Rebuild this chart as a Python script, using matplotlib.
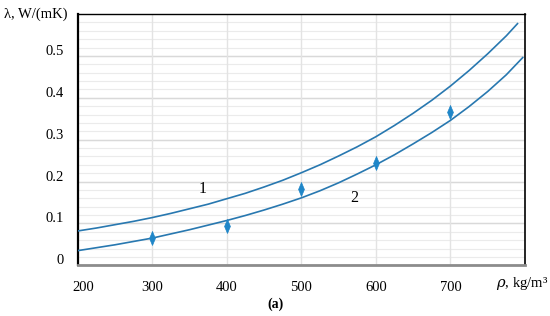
import matplotlib
matplotlib.use("Agg")
import matplotlib.pyplot as plt
from matplotlib.transforms import ScaledTranslation

plt.rcParams['font.family'] = ['Liberation Serif', 'DejaVu Serif']
plt.rcParams['mathtext.fontset'] = 'dejavuserif'

# curve 1
x1 = [200, 225, 250, 275, 300, 325, 350, 375, 400, 425, 450, 475, 500,
      525, 550, 575, 600, 625, 650, 675, 700, 725, 750, 775, 790]
y1 = [0.082, 0.089, 0.097, 0.105, 0.114, 0.124, 0.135, 0.146, 0.159, 0.172,
      0.187, 0.203, 0.221, 0.240, 0.261, 0.283, 0.307, 0.334, 0.363, 0.394,
      0.428, 0.465, 0.505, 0.548, 0.577]
# curve 2
x2 = [200, 225, 250, 275, 300, 325, 350, 375, 400, 425, 450, 475, 500,
      525, 550, 575, 600, 625, 650, 675, 700, 725, 750, 775, 797]
y2 = [0.035, 0.042, 0.049, 0.057, 0.065, 0.075, 0.085, 0.096, 0.107, 0.119,
      0.132, 0.146, 0.161, 0.178, 0.197, 0.218, 0.240, 0.264, 0.290, 0.317,
      0.346, 0.379, 0.415, 0.455, 0.496]
# experiment
xp = [300, 400, 500, 600, 700]
yp = [0.065, 0.093, 0.183, 0.244, 0.366]

xticks = [200, 300, 400, 500, 600, 700]
yticks = [0, 0.1, 0.2, 0.3, 0.4, 0.5]
yticklabels = ['0', '0.1', '0.2', '0.3', '0.4', '0.5']

col = '#2878b0'

fig = plt.figure(figsize=(5.5, 3.16), dpi=100)
ax = fig.add_axes([0.1413, 0.1604, 0.8132, 0.7953])

# grid
for v in range(0, 60, 2):
    ax.axhline(v / 100, color='#ebebeb', lw=0.8, zorder=0)
for v in yticks:
    ax.axhline(v, color='#d9d9d9', lw=1.0, zorder=0)
for v in xticks[1:]:
    ax.axvline(v, color='#e3e3e3', lw=1.0, zorder=0)

ax.plot(x1, y1, color=col, lw=1.2, zorder=3)
ax.plot(x2, y2, color=col, lw=1.2, zorder=3)
# narrow diamond
dia = [(0, 1), (0.42, 0), (0, -1), (-0.42, 0), (0, 1)]
ax.plot(xp, yp, linestyle='none', marker=dia, markersize=10,
        markerfacecolor='#1f86c8', markeredgecolor='#1f86c8',
        markeredgewidth=0.5, zorder=4)

ax.text(367, 0.183, '1', fontsize=11.5, ha='center', va='center')
ax.text(571, 0.160, '2', fontsize=11.5, ha='center', va='center')

ax.set_xlim(200, 800)
ax.set_ylim(0, 0.6)
ax.set_xticks(xticks)
ax.set_yticks(yticks)
ax.set_yticklabels(yticklabels)
ax.tick_params(axis='both', length=0, labelsize=10.5)
ax.tick_params(axis='x', pad=11)
ax.tick_params(axis='y', pad=10)

off = ScaledTranslation(0, 6 / 100, fig.dpi_scale_trans)
for lab in ax.get_yticklabels():
    lab.set_transform(lab.get_transform() + off)
xl = ax.get_xticklabels()
xl[0].set_transform(xl[0].get_transform() + ScaledTranslation(6 / 100, 0, fig.dpi_scale_trans))

for s in ['left', 'top', 'right']:
    ax.spines[s].set_color('black')
ax.spines['left'].set_linewidth(1.6)
ax.spines['top'].set_linewidth(1.0)
ax.spines['right'].set_linewidth(1.2)
ax.spines['bottom'].set_color('#8c8c8c')
ax.spines['bottom'].set_linewidth(2.0)

fig.text(68 / 550, 1 - 14 / 316, 'λ, W/(mK)', fontsize=10.5, ha='right', va='center')
fig.text(548 / 550, 1 - 283 / 316, r'$\rho$, kg/m³', fontsize=10.5, ha='right', va='center')
fig.text(275 / 550, 1 - 304 / 316, '(a)', fontsize=10, fontweight='bold', ha='center', va='center')

fig.savefig('out.png', dpi=100)
